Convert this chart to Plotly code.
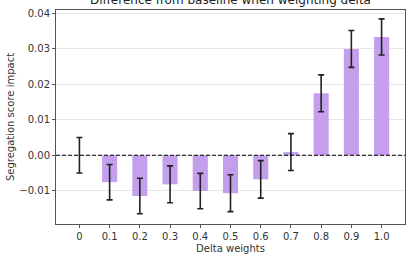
import plotly.graph_objects as go

categories = ["0", "0.1", "0.2", "0.3", "0.4", "0.5", "0.6", "0.7", "0.8", "0.9", "1.0"]
values = [0.0, -0.0076, -0.0115, -0.0082, -0.0101, -0.0107, -0.0068, 0.0009, 0.0175, 0.0300, 0.0334]
errors = [0.0050, 0.0050, 0.0050, 0.0052, 0.0050, 0.0052, 0.0053, 0.0052, 0.0052, 0.0052, 0.0051]
y_ticks = [-0.01, 0.0, 0.01, 0.02, 0.03, 0.04]
y_tick_labels = ["\u22120.01", "0.00", "0.01", "0.02", "0.03", "0.04"]

positions = list(range(len(categories)))

fig = go.Figure()
fig.add_trace(go.Bar(
    x=positions, y=values, width=0.5,
    marker=dict(color="rgb(196,160,236)", line=dict(width=0)),
    error_y=dict(type="data", array=errors, visible=True, color="#222222", thickness=1.6, width=3),
))
fig.add_hline(y=0, line=dict(color="black", width=1.2, dash="4px,2px"))

fig.update_layout(
    width=408, height=258,
    margin=dict(l=56, r=3, t=10, b=34),
    paper_bgcolor="white", plot_bgcolor="white",
    showlegend=False,
    font=dict(family="DejaVu Sans", size=10, color="#333333"),
    title=dict(text="Difference from baseline when weighting delta", x=0.565, xanchor="center",
               y=1.0, yref="container", yanchor="middle", font=dict(size=12, color="#222222")),
)
fig.update_xaxes(
    range=[-0.775, 10.775], tickmode="array", tickvals=positions, ticktext=categories,
    showgrid=False, showline=True, linecolor="#555555", linewidth=1, mirror=True,
    ticks="outside", ticklen=3, tickcolor="#555555",
    title=dict(text="Delta weights", standoff=3, font=dict(size=10)), tickfont=dict(size=10),
)
fig.update_yaxes(
    range=[-0.0194, 0.041], tickmode="array", tickvals=y_ticks, ticktext=y_tick_labels,
    showgrid=True, gridcolor="#e6e6e6", gridwidth=1, zeroline=False,
    showline=True, linecolor="#555555", linewidth=1, mirror=True,
    ticks="outside", ticklen=3, tickcolor="#555555",
    title=dict(text="Segregation score impact", standoff=2, font=dict(size=10)), tickfont=dict(size=10),
)

fig.write_html("out.html")
